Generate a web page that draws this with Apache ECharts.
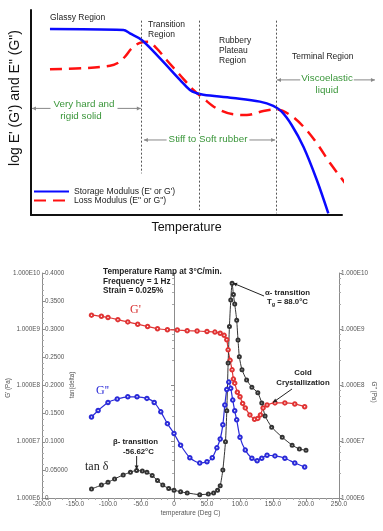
<!DOCTYPE html>
<html><head><meta charset="utf-8">
<script src="https://cdn.jsdelivr.net/npm/echarts@6/dist/echarts.min.js"></script>
<style>html,body{margin:0;padding:0;background:#fff}#c{width:383px;height:531px}</style>
</head><body><div id="c"></div>
<script>
// ===== Top schematic (arbitrary units: temperature 0-100, log modulus 0-100) =====
const storageName = "Storage Modulus (E' or G')";
const lossName = 'Loss Modulus (E" or G")';
const storageX = [6.1, 29.7, 31.8, 35.6, 41.5, 47.9, 51.1, 53.3, 55.4, 65.0, 73.6, 77.9, 80.6, 83.8, 87.6, 91.9, 95.6];
const storageY = [90.7, 90.2, 88.6, 85.4, 76.4, 65.9, 61.0, 59.4, 58.7, 57.1, 55.3, 53.2, 50.4, 43.9, 33.3, 17.1, 0.8];
const lossX = [6.1, 16.8, 25.4, 28.1, 30.2, 32.4, 35.0, 37.7, 40.4, 43.6, 47.9, 52.2, 55.4, 59.7, 65.0, 69.4, 74.7, 79.0, 83.3, 87.6, 91.9, 96.2, 101.5];
const lossY = [71.1, 71.6, 72.8, 74.3, 77.2, 81.3, 84.0, 84.5, 81.3, 75.6, 68.3, 61.0, 56.9, 52.0, 49.1, 48.8, 50.7, 51.5, 48.8, 43.1, 35.0, 25.2, 14.6];
const boundX = [35.6, 54.1, 78.8];
const boundTop = 94.8;
const boundBottom = [20.3, 2.4, 0.8];

// ===== Bottom DMA measurement =====
const gpTemp = [-125,-110,-100,-85,-70,-55,-40,-25,-10,5,20,35,50,62,70,76,80,82,85,88,90,92,96,100,104,108,115,122,127,131,135,141,153,168,183,198];
const gpPa = [1.78e9,1.70e9,1.62e9,1.48e9,1.35e9,1.23e9,1.12e9,1.02e9,9.8e8,9.7e8,9.4e8,9.3e8,9.1e8,8.9e8,8.5e8,7.8e8,6.5e8,4.3e8,2.8e8,1.9e8,1.3e8,1.1e8,7.6e7,6.3e7,4.8e7,4.0e7,3.0e7,2.5e7,2.6e7,3.0e7,4.0e7,4.5e7,4.9e7,4.9e7,4.7e7,4.2e7];
const gppTemp = [-125,-115,-100,-86,-70,-56,-41,-30,-20,-10,0,10,24,39,50,58,65,70,74,77,80,83,86,89,92,95,100,108,118,126,133,141,153,168,183,198];
const gppPa = [2.75e7,3.6e7,5.0e7,5.75e7,6.3e7,6.3e7,5.9e7,5.0e7,3.4e7,2.1e7,1.4e7,8.7e6,5.2e6,4.2e6,4.4e6,5.2e6,7.8e6,1.12e7,2.0e7,4.5e7,8.5e7,1.15e8,8.9e7,5.5e7,3.55e7,2.45e7,1.2e7,7.1e6,5.1e6,4.6e6,5.1e6,5.75e6,5.6e6,5.1e6,4.2e6,3.55e6];
const tanTemp = [-125,-110,-100,-90,-77,-66,-56.62,-48,-41,-33,-25,-17,-8,0,10,20,39,52,60,66,70,74,78,80,82,84,86,88,90,92,95,97,99,103,110,118,127,133,138,148,164,179,190,200];
const tanVal = [0.016,0.023,0.028,0.034,0.041,0.046,0.049,0.048,0.046,0.040,0.031,0.023,0.017,0.014,0.011,0.009,0.006,0.007,0.009,0.014,0.022,0.050,0.100,0.155,0.240,0.305,0.352,0.382,0.362,0.345,0.316,0.281,0.251,0.228,0.210,0.197,0.187,0.169,0.146,0.126,0.108,0.094,0.087,0.085];
const tempLabels = ['-200.0','-150.0','-100.0','-50.0','0','50.0','100.0','150.0','200.0','250.0'];
const gLabels = ['1.000E6','1.000E7','1.000E8','1.000E9','1.000E10'];
const tanLabels = ['0','0.05000','0.1000','0.1500','0.2000','0.2500','0.3000','0.3500','0.4000'];

const SANS = "'Liberation Sans', Arial, sans-serif";
const SERIF = "'Liberation Serif', 'Times New Roman', serif";
const zip = (a, b) => a.map((v, i) => [v, b[i]]);
const axGray = '#8c8c8c', lbGray = '#555';
const logLabel = v => gLabels[Math.round(Math.log10(v)) - 6];

const chart = echarts.init(document.getElementById('c'));
const bottomY = (extra) => Object.assign({
  gridIndex: 1, splitLine: {show: false},
  axisLine: {show: true, lineStyle: {color: axGray, width: 1}},
  axisTick: {show: true, length: 3, lineStyle: {color: axGray}},
  minorTick: {show: true, splitNumber: 5, length: 2, lineStyle: {color: '#aaa'}},
  axisLabel: {fontSize: 6.3, color: lbGray, margin: 2, fontFamily: SANS}
}, extra);

const option = {
  animation: false,
  backgroundColor: '#fff',
  textStyle: {fontFamily: SANS},
  legend: {
    data: [storageName, lossName], orient: 'vertical', left: 33, top: 187,
    itemWidth: 35, itemHeight: 10, itemGap: 0, padding: 0,
    itemStyle: {opacity: 0},
    textStyle: {fontSize: 8.6, color: '#222', fontFamily: SANS}
  },
  grid: [
    {left: 31, top: 10, width: 311, height: 205, outerBoundsMode: 'none'},
    {left: 42, top: 273, width: 297, height: 225, outerBoundsMode: 'none'}
  ],
  xAxis: [
    {gridIndex: 0, type: 'value', min: 0, max: 100,
     axisLine: {show: true, onZero: false, lineStyle: {color: '#111', width: 2}},
     axisTick: {show: false}, axisLabel: {show: false}, splitLine: {show: false},
     name: 'Temperature', nameLocation: 'middle', nameGap: 6,
     nameTextStyle: {fontSize: 12.5, color: '#111', fontFamily: SANS, verticalAlign: 'top'}},
    {gridIndex: 1, type: 'value', min: -200, max: 250, interval: 50,
     axisLine: {show: true, onZero: false, lineStyle: {color: axGray}},
     axisTick: {show: true, length: 3, lineStyle: {color: axGray}},
     minorTick: {show: true, splitNumber: 5, length: 2, lineStyle: {color: '#aaa'}},
     splitLine: {show: false},
     axisLabel: {fontSize: 6.5, color: lbGray, margin: 3, fontFamily: SANS, formatter: (v, i) => tempLabels[i]},
     name: 'temperature (Deg C)', nameLocation: 'middle', nameGap: 12,
     nameTextStyle: {fontSize: 6.5, color: lbGray, fontFamily: SANS}}
  ],
  yAxis: [
    {gridIndex: 0, type: 'value', min: 0, max: 100,
     axisLine: {show: true, onZero: false, lineStyle: {color: '#111', width: 2}},
     axisTick: {show: false}, axisLabel: {show: false}, splitLine: {show: false}},
    bottomY({type: 'log', min: 1e6, max: 1e10, position: 'left',
      axisLabel: {fontSize: 6.3, color: lbGray, margin: 2, fontFamily: SANS, formatter: logLabel}}),
    bottomY({type: 'value', min: 0, max: 0.4, interval: 0.05, position: 'left',
      axisTick: {show: true, inside: true, length: 3, lineStyle: {color: axGray}},
      minorTick: {show: true, splitNumber: 5, length: 2, lineStyle: {color: '#aaa'}},
      axisLabel: {inside: true, fontSize: 6.3, color: lbGray, margin: 3, fontFamily: SANS, formatter: (v, i) => tanLabels[i]}}),
    bottomY({type: 'log', min: 1e6, max: 1e10, position: 'right',
      axisLabel: {fontSize: 6.3, color: lbGray, margin: 2, fontFamily: SANS, formatter: logLabel}})
  ],
  series: [
    {name: storageName, type: 'line', xAxisIndex: 0, yAxisIndex: 0, data: zip(storageX, storageY),
     smooth: 0.35, symbol: 'none', clip: false, z: 3,
     lineStyle: {color: '#0a0aff', width: 2.5}, itemStyle: {color: '#0a0aff'},
     markLine: {silent: true, symbol: 'none', label: {show: false},
       lineStyle: {type: [2, 2], color: '#555', width: 1},
       data: boundX.map((x, i) => [{coord: [x, boundTop]}, {coord: [x, boundBottom[i]]}])}},
    {name: lossName, type: 'line', xAxisIndex: 0, yAxisIndex: 0, data: zip(lossX, lossY),
     smooth: 0.35, symbol: 'none', clip: false, z: 2,
     lineStyle: {color: '#ff1010', width: 2.5, type: [12, 7]}, itemStyle: {color: '#ff1010'}},
    {name: "G'", type: 'line', xAxisIndex: 1, yAxisIndex: 1, data: zip(gpTemp, gpPa),
     smooth: 0.25, symbol: 'emptyCircle', symbolSize: 3.5,
     lineStyle: {color: '#e03434', width: 1.2}, itemStyle: {color: '#e03434', borderWidth: 1}},
    {name: "G''", type: 'line', xAxisIndex: 1, yAxisIndex: 3, data: zip(gppTemp, gppPa),
     smooth: 0.25, symbol: 'emptyCircle', symbolSize: 3.5,
     lineStyle: {color: '#2a2ad8', width: 1.2}, itemStyle: {color: '#2a2ad8', borderWidth: 1}},
    {name: 'tan delta', type: 'line', xAxisIndex: 1, yAxisIndex: 2, data: zip(tanTemp, tanVal),
     smooth: 0.2, symbol: 'emptyCircle', symbolSize: 3,
     lineStyle: {color: '#333', width: 1}, itemStyle: {color: '#333', borderWidth: 1}}
  ]
};
chart.setOption(option);

// ===== annotations =====
function T(x, y, text, o) {
  o = o || {};
  const st = {text: text, x: 0, y: 0, fill: o.color || '#222', fontSize: o.size || 8.5,
    fontFamily: o.family || SANS, fontWeight: o.weight || 'normal',
    align: o.align || 'left', verticalAlign: 'middle', textAlign: o.align || 'left', textVerticalAlign: 'middle'};
  if (o.bg) { st.backgroundColor = o.bg; st.padding = o.pad || [0, 2]; }
  if (o.rich) st.rich = o.rich;
  return {type: 'text', x: x, y: y, rotation: o.rot || 0, z: 100, silent: true, style: st};
}
function A(p1, p2, color, hl, hw, both) {
  const els = [{type: 'line', z: 90, silent: true, shape: {x1: p1[0], y1: p1[1], x2: p2[0], y2: p2[1]}, style: {stroke: color, lineWidth: 1}}];
  const head = (a, b) => {
    const dx = b[0] - a[0], dy = b[1] - a[1], L = Math.hypot(dx, dy), ux = dx / L, uy = dy / L;
    return {type: 'polygon', z: 91, silent: true, shape: {points: [[b[0], b[1]],
      [b[0] - ux * hl - uy * hw, b[1] - uy * hl + ux * hw],
      [b[0] - ux * hl + uy * hw, b[1] - uy * hl - ux * hw]]}, style: {fill: color}};
  };
  els.push(head(p1, p2));
  if (both) els.push(head(p2, p1));
  return els;
}
const p0 = v => chart.convertToPixel({gridIndex: 0}, v);
const pS = (s, v) => chart.convertToPixel({seriesIndex: s}, v);
const G = '#3a963a';
let g = [];
// top chart arrows
g = g.concat(A(p0([0.3, 52.0]), p0([35.3, 52.0]), '#888', 4, 2, true));
g = g.concat(A(p0([36.3, 36.6]), p0([78.5, 36.6]), '#888', 4, 2, true));
g = g.concat(A(p0([79.1, 65.9]), p0([110.6, 65.9]), '#888', 4, 2, true));
// top chart texts
g.push(T(15, 98, 'log E\' (G\') and E" (G")', {rot: Math.PI / 2, align: 'center', size: 14, color: '#111'}));
g.push(T(50, 18, 'Glassy Region'));
g.push(T(148, 24.5, 'Transition'));
g.push(T(148, 34.5, 'Region'));
g.push(T(219, 41, 'Rubbery'));
g.push(T(219, 51, 'Plateau'));
g.push(T(219, 61, 'Region'));
g.push(T(292, 57, 'Terminal Region'));
g.push(T(327, 78.5, 'Viscoelastic', {align: 'center', color: G, size: 9.8, bg: '#fff', pad: [0, 1]}));
g.push(T(327, 90, 'liquid', {align: 'center', color: G, size: 9.8}));
g.push(T(84, 104, 'Very hard and', {align: 'center', color: G, size: 9.8, bg: '#fff', pad: [0, 3]}));
g.push(T(81, 116, 'rigid solid', {align: 'center', color: G, size: 9.8}));
g.push(T(208, 139, 'Stiff to Soft rubber', {align: 'center', color: G, size: 9.8, bg: '#fff', pad: [0, 2]}));
// bottom chart axis titles
g.push(T(8, 388, "G' (Pa)", {rot: Math.PI / 2, align: 'center', size: 6.3, color: lbGray}));
g.push(T(72, 385, 'tan(delta)', {rot: Math.PI / 2, align: 'center', size: 6.3, color: lbGray}));
g.push(T(374, 392, "G'' (Pa)", {rot: -Math.PI / 2, align: 'center', size: 6.3, color: lbGray}));
// bottom chart texts
g.push(T(103, 272, 'Temperature Ramp at 3°C/min.', {weight: 'bold', size: 8.2}));
g.push(T(103, 281.5, 'Frequency = 1 Hz', {weight: 'bold', size: 8.2}));
g.push(T(103, 291, 'Strain = 0.025%', {weight: 'bold', size: 8.2}));
g.push(T(130, 310, "G'", {family: SERIF, size: 12, color: '#d83030'}));
g.push(T(96, 391, "G''", {family: SERIF, size: 12, color: '#2a2ad8'}));
g.push(T(85, 467, 'tan δ', {family: SERIF, size: 12, color: '#222'}));
g.push(T(113, 442, 'β- transition', {weight: 'bold', size: 7.8}));
g.push(T(123, 452, '-56.62°C', {weight: 'bold', size: 7.8}));
g.push(T(265, 293, 'α- transition', {weight: 'bold', size: 7.8}));
g.push(T(267, 302, '{b|T}{s|g}{b| = 88.0°C}', {weight: 'bold', size: 7.8,
  rich: {b: {fontSize: 7.8, fontWeight: 'bold', fontFamily: SANS, fill: '#222'}, s: {fontSize: 5.5, fontWeight: 'bold', fontFamily: SANS, fill: '#222', padding: [4, 0, 0, 0]}}}));
g.push(T(303, 373, 'Cold', {weight: 'bold', size: 7.8, align: 'center'}));
g.push(T(303, 383, 'Crystallization', {weight: 'bold', size: 7.8, align: 'center'}));
// bottom chart arrows
const tip1 = pS(4, [88, 0.382]);
g = g.concat(A([264, 296], [tip1[0] + 1, tip1[1]], '#222', 4, 2, false));
const tip2 = pS(4, [-56.62, 0.049]);
g = g.concat(A([tip2[0], 456], [tip2[0], tip2[1] - 1], '#222', 4, 2, false));
const tip3 = pS(2, [150, 4.8e7]);
g = g.concat(A([292, 389], [tip3[0], tip3[1] - 1], '#222', 4, 2, false));
chart.setOption({graphic: {elements: g}});
</script>
</body></html>
